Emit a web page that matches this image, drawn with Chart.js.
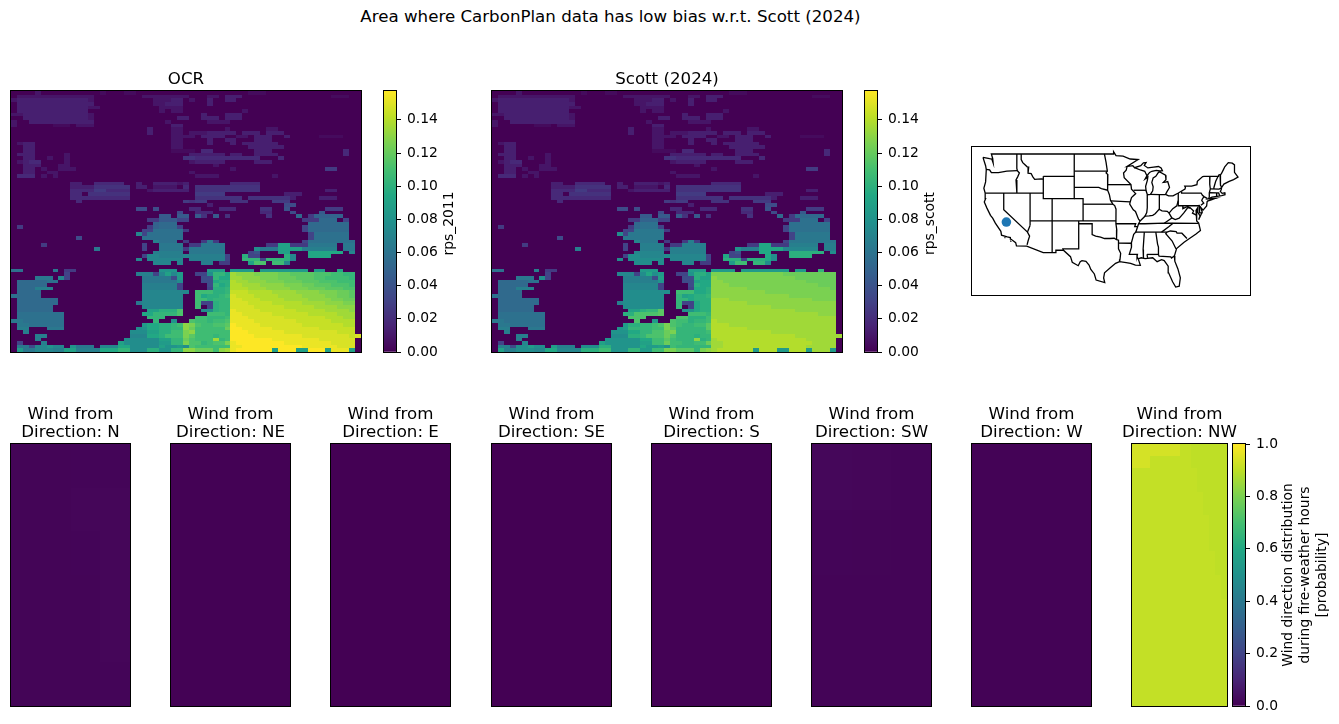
<!DOCTYPE html>
<html>
<head>
<meta charset="utf-8">
<title>Low bias area</title>
<script src="https://cdn.jsdelivr.net/npm/chart.js@4"></script>
<style>
  html, body { margin: 0; background: #fff; }
  body { position: relative; width: 1339px; height: 724px; overflow: hidden; }
  canvas { position: absolute; }
  #suptitle { position: absolute; left: 0; width: 1221px; top: 7px; text-align: center;
    font: 16.67px/20px "DejaVu Sans"; color: #000; white-space: nowrap; }
</style>
</head>
<body>
<div id="suptitle">Area where CarbonPlan data has low bias w.r.t. Scott (2024)</div>
<script>
// rps grids, top row first. Each row is a list of "column:levels", one base-36 digit per cell,
// digit / 35 of the colour range. Cells that are not listed are 0.
const rpsUpperRows = [
  "4:2 15:1 19:11 40:111",
  "1:2222222222222 22:22222222 33:22 36:333 54:111",
  "0:2 1:333333333333 13:2 24:222 27:33 30:2 33:3 36:33",
  "1:3333333333333 24:22 26:333 33:3",
  "1:333333333333 13:22 25:2222",
  "1:333333333333 25:2 27:22 39:2",
  "0:22 2:33333333333 13:2 32:3 36:333",
  "2:33333333333 13:2 28:33 32:333 36:333",
  "0:2 3:33333333333 26:2 33:2222",
  "0:2 7:111 11:222 27:33",
  "23:3 27:22 36:2 43:22",
  "23:3 27:22 30:222 33:33 35:333 39:333 43:333",
  "27:22 29:22 32:3333 38:22 41:333 46:3 52:1111",
  "27:22 33:3 36:33 41:333",
  "1:233 27:22 33:3 37:3 39:333333",
  "2:33 27:22 40:333333",
  "2:33 27:111 29:11 32:44 41:333 56:4",
  "1:333 9:2 30:333 33:333 37:33 41:3333 56:4",
  "2:33 6:2 9:2 29:55 31:4444444444 41:4 45:4",
  "1:2344 9:2 30:2 31:33333 41:333",
  "2:333 8:22 34:2",
  "2:33 5:2 8:222 37:2 53:66",
  "2:33 6:22 30:2",
  "1:444 5:2 7:2 31:22 33:22 44:2",
  "",
  "10:33 14:44444 21:3 24:3333 28:2 29:3 37:44444",
  "10:3333 14:555555 21:33 24:2222 29:4 31:55555555555",
  "10:4444664444 23:2 24:33333 29:3 31:55555555555 53:33",
  "10:44 13:5555555 31:66666 46:333",
  "10:4444444444 31:55555555 40:5555555 47:3 52:333",
  "11:4 29:6 30:5 31:66 37:555 44:666",
  "33:3 46:88",
  "21:88 24:8 30:44 35:444 42:55 46:9 53:66 55:6",
  "28:8 31:444 42:44 47:8 52:a"
];
const rps2011LowerRows = [
  "25:aa 28:a 29:a 31:a 32:5 34:a 36:5 43:5 48:c 50:6 51:bbbbb",
  "23:66aaa 28:77 49:666 52:ccc 56:7",
  "24:bccc 50:ccccccc",
  "1:6 23:6 24:bccc 28:7 49:7 50:ccccccc",
  "22:77 24:ddddd 29:6 49:7 50:ccccccc",
  "21:g 22:7 23:dddddd 50:7 51:dddddd",
  "11:8 22:ddddddd 50:7 51:dddddd",
  "24:f 25:ddd 29:6 32:6 33:e 34:6 49:7 50:dddddddd",
  "5:6 22:7 25:eeee 30:66 32:eeee 43:66 45:kk 47:666 50:eeeee 56:ee",
  "14:e 22:7 25:eeee 29:6 30:eeeeee 41:h 42:eee 45:kkkk 49:f 50:fffff 56:ee",
  "24:fffff 30:eeeeee 40:7 41:9 45:kk 50:llllll 57:g",
  "22:7 23:ggfffff 29:g 30:ffffff 36:7 39:m 40:77 46:m 47:g 50:llll",
  "21:g 23:gggggg 30:ffffff 36:7 39:nnn 42:7 43:nnn 46:m 47:g",
  "24:ggg 28:g 32:ff 35:66 40:k 41:pp 44:oo 46:g",
  "",
  "0:dd 7:e 9:66 25:iii 33:jjj 37:jjjj 42:jjjjjjjj 51:jj 55:l",
  "9:7 21:fff 24:7 25:g 26:k 27:g 28:j 31:77 33:h 34:nn 36:l 37:utttssssrrqqqqpppoonn",
  "4:eee 8:g 9:7 22:eeeee 27:8 28:j 32:88 34:nl 36:l 37:uutttsssrrrqqqppoooon",
  "1:ccccc 6:dd 22:eeeeee 28:h 32:88 34:lm 36:m 37:vuutttsssrrrqqqpppooo",
  "1:ccccc 22:ffffff 28:7 33:8 34:nl 36:m 37:vvuuuttttsssrrqqqpppo",
  "1:ccc 4:fff 22:ffffff 28:7 33:7 34:mm 36:n 37:vvvuuuttttsssrrrqqqpp",
  "1:cccc 22:ggggggg 29:g 31:ooo 34:mm 36:n 37:wwwvvvvuuuuttttsssrrq",
  "0:d 1:cccc 22:ggggggg 31:olmmno 37:xwwwvvvvuuuuttttssrrq",
  "1:ccccccc 22:ggggggg 31:oomnnn 37:xxwwwvvvvuuuuttttssrr",
  "1:ccccccc 21:e 22:ggggggg 31:o 32:77 34:mnn 37:xxxwwwwvvvvvuuuutttss",
  "1:cccccc 22:ggggggg 31:o 33:7 34:mnn 37:xxxxwwwwwvvvvvuuuuttt",
  "1:cccccc 23:kkmmm 28:p 32:hh 34:m 35:nn 37:yxxxxwwwwwwvvvvvuuuut",
  "1:dddddddd 22:ll 24:nnnn 28:p 33:ooo 36:n 37:yyxxxxxwwwwwwvvvvvuuu",
  "1:dddddddd 23:nnn 31:oo 33:nnn 36:o 37:yyyxxxxxxwwwwwwwvvvuu",
  "0:ee 2:ddddddd 24:n 27:i 30:p 31:oo 33:no 35:op 37:yyyyxxxxxxxwwwwwwvvvv",
  "1:ee 3:dddddd 22:jl 24:lmmn 28:o 29:tsp 32:oopp 36:q 37:zyyyyxxxxxxxwwwwwwwvv",
  "1:ff 6:eee 21:hi 23:llmm 27:nn 29:tr 31:ooooo 36:r 37:zzyyyyyxxxxxxxxwwwwww",
  "2:f 20:hhh 23:kk 25:mm 27:oo 29:st 31:ooooo 36:o 37:zzzyyyyyyxxxxxxxxxwww",
  "4:ff 20:ggg 23:ll 25:m 26:ooo 29:sq 31:ooon 35:oo 37:zzzzyyyyyyyyxxxxxxxxw 58:x",
  "4:f 19:hhhhhh 25:kk 27:nn 29:rp 31:ooo 34:u 35:no 37:zzzzzzzyyyyyyyyxxxxxx",
  "1:7 5:f 18:k 19:hhhhhh 25:jj 27:nn 29:sp 31:pnop 35:p 36:s 37:yzzzzzzzzyyyyyyyyxxxx",
  "1:ee 3:8 4:gg 6:i 7:gg 10:i 11:eee 15:ggg 18:ll 20:hhhhh 25:k 26:ii 28:j 29:h 30:p 31:oooo 35:oo 37:yyzzzzzzzzzzyyyyyyxxx",
  "1:j 2:ee 4:ggg 7:ff 9:kk 11:ffff 15:lll 18:nn 20:hhh 23:mm 25:ii 27:nn 29:tt 31:rrr 34:o 35:tu 37:yzzzzzzkzzzkkzzzkyyyk"
];
const rpsScottLowerRows = [
  "25:aa 28:a 29:a 31:a 32:5 34:a 36:5 43:5 48:c 50:6 51:ccccc",
  "23:66bbb 28:77 49:666 52:ddd 56:7",
  "24:cddd 50:ddddddd",
  "1:6 23:6 24:cddd 28:7 49:7 50:ddddddd",
  "22:77 24:eeeee 29:6 49:7 50:ddddddd",
  "21:h 22:7 23:eeeeee 50:7 51:eeeeee",
  "11:8 22:eeeeeee 50:7 51:eeeeee",
  "24:g 25:eee 29:6 32:6 33:f 34:6 49:7 50:eeeeeeee",
  "5:6 22:7 25:ffff 30:66 32:ffff 43:66 45:ll 47:666 50:ffff 54:f 56:ff",
  "14:f 22:7 25:ffff 29:6 30:ffffff 41:i 42:fff 45:llll 49:g 50:ggggg 56:ff",
  "24:ggggg 30:ffffff 40:7 41:9 45:ll 50:mmmmmm 57:h",
  "22:7 23:hhggggg 29:h 30:gggggg 36:7 39:l 40:77 46:l 47:h 50:mmmm",
  "21:h 23:hhhhhh 30:gggggg 36:7 39:mmm 42:7 43:mmm 46:l 47:h",
  "24:hhh 28:h 32:gg 35:66 40:j 41:oo 44:nn 46:h",
  "",
  "0:dd 7:f 9:66 25:jjj 33:jjj 37:jjjj 42:jjjjjjjj 51:jj 55:n",
  "9:7 21:ggg 24:7 25:h 26:l 27:h 28:j 31:77 33:i 34:mm 36:k 37:ssssssssssssrrrrrrrrr",
  "4:eee 8:h 9:7 22:fffff 27:8 28:k 32:88 34:mk 36:k 37:tsssssssssssssrrrrrrr",
  "1:ccccc 6:dd 22:ffffff 28:i 32:88 34:kl 36:l 37:ttssssssssssssssrrrrr",
  "1:ccccc 22:gggggg 28:7 33:8 34:ml 36:l 37:tttsssssssssssssssrrr",
  "1:ccc 4:fff 22:gggggg 28:7 33:7 34:ll 36:m 37:ttttttssssssssssssssr",
  "1:cccc 22:hhhhhhh 29:h 31:ooo 34:ll 36:m 37:tttttttttssssssssssss",
  "0:d 1:cccc 22:hhhhhhh 31:nklmm 36:n 37:tttttttttttttssssssss",
  "1:ccccccc 22:hhhhhhh 31:nnlmmm 37:uuuttttttttttttttssss",
  "1:ccccccc 21:f 22:hhhhhhh 31:n 32:77 34:lmm 37:uuuuuuttttttttttttttt",
  "1:cccccc 22:hhhhhhh 31:n 33:7 34:lmm 37:uuuuuuuuuuttttttttttt",
  "1:cccccc 23:kkmnn 28:q 32:ii 34:l 35:mm 37:uuuuuuuuuuuuuuttttttt",
  "1:dddddddd 22:mm 24:pppp 28:q 33:ooo 36:n 37:uuuuuuuuuuuuuuuuuuttt",
  "1:dddddddd 23:ppp 31:pp 33:mmm 36:o 37:uuuuuuuuuuuuuuuuuuuuu",
  "0:ee 2:ddddddd 24:p 27:j 30:p 31:oo 33:mn 35:no 37:vuuuuuuuuuuuuuuuuuuuu",
  "1:ee 3:dddddd 22:jm 24:mnno 28:p 29:spo 32:nnoo 36:q 37:vvvuuuuuuuuuuuuuuuuuu",
  "1:ff 6:eee 21:ij 23:nnnn 27:oo 29:sq 31:nnnnn 36:q 37:vvvvvvuuuuuuuuuuuuuuu",
  "2:f 20:iii 23:ll 25:nn 27:pp 29:rs 31:nnnnn 36:o 37:vvvvvvvvvvuuuuuuuuuuu",
  "4:ff 20:hhh 23:mm 25:n 26:ppp 29:rp 31:nnnm 35:nn 37:vvvvvvvvvvvvvvuuuuuuu 58:u",
  "4:f 19:iiiiii 25:ll 27:oo 29:qo 31:nnn 34:t 35:mn 37:uvvvvvvvvvvvvvvvuuuuu",
  "1:7 5:g 18:k 19:iiiiii 25:kk 27:oo 29:ro 31:onno 35:o 36:r 37:uuvvvvvvvvvvvvvvvuuuu",
  "1:ff 3:8 4:hh 6:j 7:hh 10:j 11:fff 15:hhh 18:mm 20:iiiii 25:l 26:jj 28:k 29:i 30:o 31:nnnn 35:nn 37:uuvvvvvvvvvvvvvvuuuuu",
  "1:k 2:ff 4:hhh 7:gg 9:ll 11:gggg 15:mmm 18:oo 20:iii 23:nn 25:jj 27:oo 29:ss 31:qqq 34:n 35:st 37:uvvvvvvjvvvjjvvvjuuuj"
];
const rps2011Rows = rpsUpperRows.concat(rps2011LowerRows);
const rpsScottRows = rpsUpperRows.concat(rpsScottLowerRows);

const gridCols = 59;
const gridRows = 72;
const rpsMax = 0.1574;
const rpsTicks = [0, 0.02, 0.04, 0.06, 0.08, 0.1, 0.12, 0.14];

// wind direction probability, top row first
const windDirections = ["N", "NE", "E", "SE", "S", "SW", "W", "NW"];
const windN = [
  [0.010, 0.010, 0.011, 0.012],
  [0.010, 0.010, 0.014, 0.014],
  [0.010, 0.010, 0.012, 0.014],
  [0.010, 0.010, 0.010, 0.014],
  [0.010, 0.010, 0.010, 0.014],
  [0.010, 0.010, 0.010, 0.012]
];
const windNE = [[0.004]];
const windE = [[0.001]];
const windSE = [[0.001]];
const windS = [[0.002]];
const windSW = [[0.018, 0.015, 0.011], [0.012, 0.010, 0.009], [0.009, 0.008, 0.008], [0.008, 0.008, 0.008]];
const windW = [[0.006]];
// NW levels span 0.85 to 0.95
const windNWBase = 0.85;
const windNWSpan = 0.1;
const windNWRows = [
  "0:uuuuuuuulliiiiii", "0:uuullllllliiiiii", "0:llllllllllliiiii", "0:llllllllllliiiii",
  "0:lllllllllllliiii", "0:lllllllllllliiii", "0:llllllllllllliii", "0:llllllllllllliii",
  "0:llllllllllllliii", "0:llllllllllllllii", "0:llllllllllllllii", "0:llllllllllllllli",
  "0:llllllllllllllli", "0:llllllllllllllll", "0:llllllllllllllll", "0:llllllllllllllll",
  "0:llllllllllllllll", "0:llllllllllllllll", "0:llllllllllllllll", "0:llllllllllllllll",
  "0:llllllllllllllll", "0:llllllllllllllll"
];
const windGrids = [windN, windNE, windE, windSE, windS, windSW, windW];
const windTicks = [0, 0.2, 0.4, 0.6, 0.8, 1];

// site marker and state lines, lon/lat
const siteLonLat = [-119.4, 36.8];
const conusOutline = [
  [-124.7,48.4],[-123.2,48.15],[-122.7,48.1],[-122.4,47.4],[-122.5,48.2],[-122.8,49],[-95.15,49],[-95.15,49.4],[-94.6,48.7],
  [-93,48.6],[-91.4,48.1],[-89.6,48],[-92.1,46.75],[-90.8,46.9],[-90.4,46.55],[-89,46.9],[-88.4,47.4],[-87.8,47.45],
  [-88.2,46.95],[-87.4,46.5],[-86.1,46.65],[-85,46.75],[-84.4,46.5],[-84.1,46],[-84.7,45.95],[-85.5,46.05],[-86.5,45.9],
  [-87,45.7],[-87.6,45.1],[-88,44.55],[-87.4,44.9],[-87.5,44.3],[-87.9,43.2],[-87.8,42.4],[-87.5,41.7],[-86.8,41.75],
  [-86.3,42.4],[-86.2,43.1],[-86.5,43.9],[-86.2,44.7],[-85.6,45],[-85,45.7],[-84.7,45.78],[-83.4,45.2],[-83.3,44.4],
  [-83.9,43.9],[-83.4,43.95],[-82.9,44.05],[-82.5,43],[-83.1,42.2],[-83.4,41.75],[-82.7,41.5],[-81.7,41.5],[-80.5,42],
  [-79,42.7],[-78.9,43],[-79.05,43.25],[-77.5,43.25],[-76.3,43.5],[-76.2,44.1],[-75,44.95],[-74.7,45],[-71.5,45],
  [-71.4,45.2],[-70.8,45.4],[-70.3,46.2],[-70,46.7],[-69.2,47.45],[-68.3,47.35],[-67.8,47.05],[-67.8,45.7],[-67,44.85],
  [-68,44.4],[-69,44.1],[-70.2,43.6],[-70.7,43],[-70.8,42.6],[-71,42.3],[-70.6,41.95],[-70,42.05],[-69.95,41.7],
  [-70.7,41.55],[-71.4,41.45],[-72.9,41.25],[-73.7,40.95],[-72,41.05],[-73.9,40.55],[-74,40.4],[-74.1,39.7],[-74.9,38.95],
  [-75.5,39.5],[-75.1,38.6],[-75.9,37.2],[-75.6,37.9],[-76.2,38.7],[-76.1,39.4],[-76.5,38.9],[-76.4,38.1],[-76.3,37],
  [-75.9,36.6],[-75.5,35.3],[-76.5,34.65],[-77.9,33.9],[-79.2,33.2],[-80.9,32.05],[-81.4,30.7],[-81.3,29.8],[-80.6,28.4],
  [-80.05,26.8],[-80.3,25.3],[-81.1,25.15],[-81.8,26.1],[-82.7,27.7],[-82.8,28.9],[-83.7,29.9],[-84.3,30.05],[-85.3,29.7],
  [-86.3,30.4],[-88,30.25],[-88.9,30.4],[-89.6,30.2],[-89.4,29.8],[-89.1,29.05],[-90.2,29.1],[-91.3,29.4],[-92.3,29.55],
  [-93.8,29.7],[-94.7,29.4],[-95.9,28.6],[-97.2,27.7],[-97.4,26.8],[-97.15,25.95],[-99.1,26.4],[-99.5,27.5],[-100.3,28.3],
  [-100.7,29.1],[-101.4,29.77],[-102.3,29.88],[-102.7,29.7],[-103.15,28.98],[-104.5,29.6],[-104.9,30.6],[-106.5,31.75],
  [-108.2,31.78],[-108.2,31.33],[-111.07,31.33],[-114.8,32.5],[-117.12,32.53],[-117.3,33.1],[-118.4,33.75],[-118.5,34.03],
  [-119.2,34.15],[-120.5,34.45],[-120.65,35.15],[-121.9,36.6],[-122.5,37.5],[-123,38],[-123.8,39.3],[-124.4,40.4],
  [-124.1,41],[-124.2,42],[-124.5,42.85],[-124.1,44],[-123.95,46.2],[-124.1,46.9],[-124.7,48.4]
];
const stateLines = [
  [[-124,46.25],[-123.2,46.15],[-122.8,45.65],[-121.2,45.65],[-119.3,45.93],[-116.92,46]],
  [[-117.03,49],[-117.04,46.42],[-116.92,46],[-116.46,45.6],[-116.85,44.9],[-117.22,44.35],[-117.03,43.8],[-117.03,42]],
  [[-124.2,42],[-111.05,42]],
  [[-120,42],[-120,39],[-114.63,35],[-114.15,34.27],[-114.5,33.4],[-114.72,32.72]],
  [[-114.63,35],[-114.05,36.2]],
  [[-114.04,42],[-114.04,36.2]],
  [[-114.04,37],[-94.62,37]],
  [[-116.05,49],[-116.05,48],[-115.7,47.45],[-114.7,46.7],[-114.35,46.65],[-114.5,45.55],[-113.8,45.5],[-113.45,44.95],[-113,44.45],[-111.5,44.55],[-111.05,44.48]],
  [[-111.05,45],[-104.05,45],[-104.05,41],[-111.05,41],[-111.05,45]],
  [[-109.05,41],[-109.05,31.33]],
  [[-104.05,41],[-102.05,41],[-102.05,37]],
  [[-102.05,40],[-95.3,40]],
  [[-104.05,49],[-104.05,45]],
  [[-104.05,45.94],[-96.56,45.94]],
  [[-104.05,43],[-98.5,43],[-97.9,42.8],[-96.45,42.5]],
  [[-97.23,49],[-96.85,47.5],[-96.56,45.94],[-96.85,45.6],[-96.45,45.3],[-96.45,43.5],[-96.6,43.1],[-96.45,42.5],[-96.1,41.7],[-95.85,40.7],[-95.3,40],[-94.9,39.75],[-94.6,39.1],[-94.62,36.5],[-94.43,35.4],[-94.48,33.64]],
  [[-96.45,43.5],[-91.22,43.5]],
  [[-103.04,37],[-103.04,32],[-106.62,32],[-106.5,31.75]],
  [[-103,36.5],[-100,36.5],[-100,34.56],[-99.2,34.3],[-98.1,34.1],[-97.2,33.85],[-96,33.85],[-95,33.9],[-94.48,33.64],[-94.04,33.55],[-94.04,31.99],[-93.55,31.2],[-93.7,30.1],[-93.8,29.7]],
  [[-94.04,33.02],[-91.15,33]],
  [[-94.62,36.5],[-90.15,36.5],[-90.37,35.99],[-89.7,36]],
  [[-92.1,46.75],[-92.3,46.1],[-92.9,45.6],[-92.75,44.75],[-91.22,43.5],[-91.1,42.7],[-90.15,41.9],[-91.1,41.2],[-91.4,40.4],[-91.5,40],[-90.7,39],[-90.2,38.7],[-89.5,37.3],[-89.15,37],[-89.5,36.5],[-89.7,36],[-90.1,35.05],[-90.6,34.6],[-91.15,33],[-91.1,32.3],[-91.6,31],[-89.75,31],[-89.85,30.65],[-89.6,30.2]],
  [[-95.77,40.58],[-91.4,40.4]],
  [[-90.64,42.5],[-87.8,42.5]],
  [[-90.4,46.55],[-89.1,46.13],[-88.1,45.9],[-87.6,45.1]],
  [[-87.53,41.7],[-87.53,39.35],[-87.65,38.5],[-88.05,37.85]],
  [[-89.15,37],[-88.05,37.85],[-87.1,37.9],[-86.3,38],[-85.75,38.3],[-84.85,39.1],[-84.2,38.8],[-83,38.72],[-82.6,38.4],[-81.75,39.2],[-80.85,39.7],[-80.52,40.64]],
  [[-84.82,39.1],[-84.8,41.7]],
  [[-86.8,41.76],[-84.8,41.7],[-83.45,41.73]],
  [[-80.52,42],[-80.52,39.72],[-75.79,39.72],[-75.7,38.46],[-75.05,38.45]],
  [[-79.76,42.27],[-79.76,42],[-75.35,42],[-75.05,41.6],[-74.7,41.36],[-73.9,41]],
  [[-74.7,41.36],[-75.1,40.9],[-75.2,40.65],[-74.75,40.2],[-75.4,39.8]],
  [[-82.6,38.4],[-81.97,37.54],[-81.2,37.25],[-80.3,37.5],[-79.3,38.4],[-78.35,39.4],[-77.75,39.3],[-77.05,38.8],[-77.3,38.4],[-76.3,38]],
  [[-81.97,37.54],[-83.68,36.6]],
  [[-89.5,36.5],[-88.05,36.5],[-83.68,36.6],[-81.7,36.59],[-75.87,36.55]],
  [[-79.48,39.72],[-79.48,39.2],[-78.4,39.6],[-77.75,39.3]],
  [[-90.3,35],[-83.1,35]],
  [[-81.7,36.59],[-82.6,36],[-84.3,35]],
  [[-88.2,35],[-88.47,31.9],[-88.4,30.3]],
  [[-85.6,35],[-85.2,32.85],[-85,32.3],[-85,31],[-84.86,30.7],[-82.2,30.57],[-82.05,30.36],[-81.45,30.7]],
  [[-87.6,31],[-85,31]],
  [[-87.6,31],[-87.45,30.4]],
  [[-83.1,35],[-82.3,35.2],[-81,35.1],[-80.8,34.82],[-79.7,34.8],[-78.55,33.86]],
  [[-83.1,35],[-83.35,34.7],[-81.9,33.4],[-81.1,32.1],[-80.9,32.05]],
  [[-71.5,45],[-72.05,44.1],[-72.45,43],[-72.46,42.73]],
  [[-73.35,45],[-73.4,43.6],[-73.27,42.75],[-73.5,42.05],[-73.5,41.3],[-73.65,41]],
  [[-73.27,42.75],[-71.3,42.7],[-70.8,42.87]],
  [[-73.5,42.05],[-71.8,42.02],[-71.38,42.02],[-71.15,41.5]],
  [[-71.8,42.02],[-71.85,41.3]],
  [[-71.05,45.3],[-70.97,43.4],[-70.7,43.07]],
  [[-119.85,34.02],[-119.6,34.02]],
  [[-118.55,33.42],[-118.4,33.38]]
];

const viridisStops = ["#440154", "#482475", "#414487", "#355f8d", "#2a788e", "#21918c", "#22a884", "#44bf70", "#7ad151", "#bddf26", "#fde725"];
const textFont = "DejaVu Sans";
const tickSize = 13.89;
const titleSize = 16.67;

Chart.defaults.font.family = textFont;
Chart.defaults.color = "#000";
Chart.defaults.animation = false;
Chart.defaults.events = [];
Chart.defaults.plugins.legend.display = false;
Chart.defaults.plugins.tooltip.enabled = false;

function hexRgb(h) {
  return [1, 3, 5].map(i => parseInt(h.substr(i, 2), 16));
}

function viridis(t) {
  t = Math.min(1, Math.max(0, t)) * (viridisStops.length - 1);
  const i = Math.min(Math.floor(t), viridisStops.length - 2);
  const a = hexRgb(viridisStops[i]), b = hexRgb(viridisStops[i + 1]);
  const f = t - i;
  return "rgb(" + a.map((v, k) => Math.round(v + (b[k] - v) * f)).join(",") + ")";
}

// "col:levels col:levels" rows -> cell objects
function rowsToCells(rows, span, base) {
  const cells = [];
  rows.forEach((row, i) => {
    const y = rows.length - 1 - i;
    row.split(" ").filter(Boolean).forEach(seg => {
      const [start, levels] = seg.split(":");
      [...levels].forEach((ch, k) => {
        cells.push({ x: +start + k, y: y, v: (base || 0) + parseInt(ch, 36) / 35 * span });
      });
    });
  });
  return cells;
}

function gridToCells(grid) {
  const cells = [];
  grid.forEach((row, i) => row.forEach((v, k) => cells.push({ x: k, y: grid.length - 1 - i, v: v })));
  return cells;
}

// fills each cell between the scale positions of its edges
const cellPlugin = {
  id: "cells",
  beforeDatasetsDraw(chart, args, opts) {
    if (!opts.vmax) return;
    const c = chart.ctx, xs = chart.scales.x, ys = chart.scales.y;
    c.save();
    c.fillStyle = viridis(0);
    c.fillRect(chart.chartArea.left, chart.chartArea.top, chart.chartArea.width, chart.chartArea.height);
    chart.data.datasets[0].data.forEach(d => {
      const x0 = Math.round(xs.getPixelForValue(d.x)), x1 = Math.round(xs.getPixelForValue(d.x + 1));
      const y0 = Math.round(ys.getPixelForValue(d.y + 1)), y1 = Math.round(ys.getPixelForValue(d.y));
      c.fillStyle = viridis(d.v / opts.vmax);
      c.fillRect(x0, y0, x1 - x0, y1 - y0);
    });
    c.restore();
  }
};

const framePlugin = {
  id: "frame",
  afterDraw(chart) {
    const a = chart.chartArea, c = chart.ctx;
    c.save();
    c.strokeStyle = "#000";
    c.lineWidth = 1;
    c.strokeRect(a.left - 0.5, a.top - 0.5, a.width + 1, a.height + 1);
    c.restore();
  }
};

// titles may run wider than a narrow plot, stop the title box squeezing them
const wideTitlePlugin = {
  id: "wideTitle",
  afterLayout(chart) {
    if (chart.titleBlock) {
      chart.titleBlock.left = 0;
      chart.titleBlock.right = chart.width;
    }
  }
};

// colour bar captions read bottom to top, which a right hand axis title does not do
const sideLabelPlugin = {
  id: "sideLabel",
  afterDraw(chart, args, opts) {
    if (!opts.lines) return;
    const a = chart.chartArea, c = chart.ctx;
    c.save();
    c.font = tickSize + "px '" + textFont + "'";
    c.fillStyle = "#000";
    c.textAlign = "center";
    c.textBaseline = "middle";
    opts.lines.forEach((line, i) => {
      c.save();
      c.translate(a.right + opts.dx + i * 17, (a.top + a.bottom) / 2 + (opts.dy || 0));
      c.rotate(-Math.PI / 2);
      c.fillText(line, 0, 0);
      c.restore();
    });
    c.restore();
  }
};
Chart.register(cellPlugin, framePlugin, wideTitlePlugin, sideLabelPlugin);

function addCanvas(left, top, w, h) {
  const el = document.createElement("canvas");
  el.width = w;
  el.height = h;
  el.style.left = left + "px";
  el.style.top = top + "px";
  el.style.width = w + "px";
  el.style.height = h + "px";
  document.body.appendChild(el);
  return el;
}

function titleOptions(lines) {
  return {
    display: true,
    text: lines,
    font: { family: textFont, size: titleSize, weight: "normal", lineHeight: "18px" },
    color: "#000",
    padding: { top: 0, bottom: 2 }
  };
}

// heat map whose plot area lands on left/top/w/h of the page
function cellPanel(box, title, cells, cols, rows, vmax) {
  const titleH = 18 * title.length + 2;
  const pad = 2, padX = 20;
  const el = addCanvas(box.left - padX, box.top - pad - titleH, box.w + 2 * padX, box.h + 2 * pad + titleH);
  return new Chart(el, {
    type: "scatter",
    data: { datasets: [{ data: cells, pointRadius: 0, showLine: false }] },
    options: {
      responsive: false,
      layout: { padding: { left: padX, right: padX, top: pad, bottom: pad }, autoPadding: false },
      scales: {
        x: { type: "linear", min: 0, max: cols, display: false },
        y: { type: "linear", min: 0, max: rows, display: false }
      },
      plugins: { title: titleOptions(title), cells: { vmax: vmax } }
    }
  });
}

function colourBar(box, vmax, ticks, digits, caption, dx, dy) {
  const pad = 20, axisW = 100;
  const el = addCanvas(box.left - pad, box.top - pad, box.w + axisW + 2 * pad, box.h + 2 * pad);
  return new Chart(el, {
    type: "bar",
    data: {
      labels: ["bar"],
      datasets: [{
        data: [[0, vmax]],
        barPercentage: 1,
        categoryPercentage: 1,
        backgroundColor(ctx) {
          const area = ctx.chart.chartArea;
          if (!area) return viridis(0);
          const g = ctx.chart.ctx.createLinearGradient(0, area.bottom, 0, area.top);
          viridisStops.forEach((col, i) => g.addColorStop(i / (viridisStops.length - 1), col));
          return g;
        }
      }]
    },
    options: {
      responsive: false,
      layout: { padding: pad, autoPadding: false },
      scales: {
        x: { display: false },
        y: {
          position: "right",
          min: 0,
          max: vmax,
          afterFit(s) { s.width = axisW; },
          afterBuildTicks(s) { s.ticks = ticks.map(v => ({ value: v })); },
          border: { display: false },
          grid: { drawOnChartArea: false, drawTicks: true, tickLength: 5, tickColor: "#000", tickWidth: 1 },
          ticks: {
            font: { family: textFont, size: tickSize },
            color: "#000",
            padding: 6,
            autoSkip: false,
            maxRotation: 0,
            callback: v => v.toFixed(digits)
          }
        }
      },
      plugins: { sideLabel: { lines: caption, dx: dx, dy: dy } }
    }
  });
}

function mapPanel(box) {
  const pad = 2;
  const el = addCanvas(box.left - pad, box.top - pad, box.w + 2 * pad, box.h + 2 * pad);
  const toPoints = line => line.map(p => ({ x: p[0], y: p[1] }));
  const lineSet = line => ({
    data: toPoints(line), showLine: true, pointRadius: 0, borderColor: "#000", borderWidth: 1.3, tension: 0
  });
  return new Chart(el, {
    type: "scatter",
    data: {
      datasets: [
        { data: toPoints([siteLonLat]), pointRadius: 4.8, pointBackgroundColor: "#1f77b4", pointBorderWidth: 0, showLine: false }
      ].concat([conusOutline].concat(stateLines).map(lineSet))
    },
    options: {
      responsive: false,
      layout: { padding: pad, autoPadding: false },
      scales: {
        x: { type: "linear", min: -127.18, max: -64.29, display: false },
        y: { type: "linear", min: 23.73, max: 50.25, display: false }
      }
    }
  });
}

cellPanel({ left: 11, top: 91, w: 350, h: 261 }, ["OCR"], rowsToCells(rps2011Rows, rpsMax), gridCols, gridRows, rpsMax);
cellPanel({ left: 492, top: 91, w: 350, h: 261 }, ["Scott (2024)"], rowsToCells(rpsScottRows, rpsMax), gridCols, gridRows, rpsMax);
colourBar({ left: 384, top: 91, w: 12, h: 261 }, rpsMax, rpsTicks, 2, ["rps_2011"], 53, 2);
colourBar({ left: 865, top: 91, w: 12, h: 261 }, rpsMax, rpsTicks, 2, ["rps_scott"], 53, 2);
mapPanel({ left: 972, top: 147, w: 278, h: 148 });

const windLefts = [11, 171, 331, 492, 652, 812, 972];
windGrids.forEach((grid, i) => {
  cellPanel({ left: windLefts[i], top: 444, w: 119, h: 262 }, ["Wind from", "Direction: " + windDirections[i]],
    gridToCells(grid), grid[0].length, grid.length, 1);
});
cellPanel({ left: 1132, top: 444, w: 95, h: 262 }, ["Wind from", "Direction: " + windDirections[7]],
  rowsToCells(windNWRows, windNWSpan, windNWBase), 16, windNWRows.length, 1);
colourBar({ left: 1233, top: 444, w: 12, h: 262 }, 1, windTicks, 1,
  ["Wind direction distribution", "during fire-weather hours", "[probability]"], 43);
</script>
</body>
</html>
